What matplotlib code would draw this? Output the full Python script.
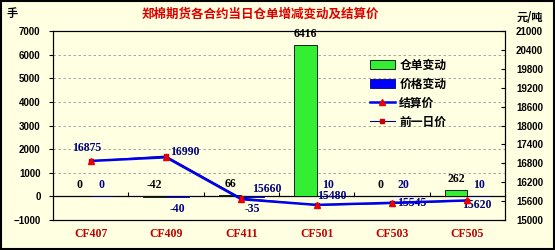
import matplotlib
matplotlib.use('Agg')
import matplotlib.pyplot as plt
from matplotlib.patches import Rectangle
import numpy as np

contracts = ['CF407', 'CF409', 'CF411', 'CF501', 'CF503', 'CF505']
receipt_change = [0, -42, 66, 6416, 0, 262]          # 仓单变动 (手)
price_change = [0, -40, -35, 10, 20, 10]              # 价格变动
settle_price = [16875, 16990, 15660, 15480, 15545, 15620]   # 结算价
prev_price = [16875, 17030, 15695, 15470, 15525, 15610]     # 前一日价

# label offsets (pixels) for the settlement price labels
settle_offsets = [(-4, 13), (19, 5), (25, 10), (15, 9), (20, 0), (9, -5)]

bg = '#FFFFE1'
cjk = ['Noto Sans CJK SC', 'DejaVu Sans']
num = ['Liberation Serif', 'DejaVu Serif']

fig = plt.figure(figsize=(5.55, 2.5), dpi=100, facecolor=bg)
ax = fig.add_axes([53/555, 1-220/250, 452/555, 189/250])
ax.set_facecolor(bg)
ax2 = ax.twinx()

ind = np.arange(len(contracts))
w = 0.3
b_green = ax.bar(ind - w/2, receipt_change, w, color='#33EE33', edgecolor='black', linewidth=0.6, zorder=3)
b_blue = ax.bar(ind + w/2, price_change, w, color='#0000FF', edgecolor='#000080', linewidth=0.6, zorder=3)

ax.set_xlim(-0.5, 5.5)
ax.set_ylim(-1000, 7000)
ax.set_yticks(np.arange(-1000, 7001, 1000))
for yv in range(1000, 7000, 1000):
    ax.axhline(yv, color='#999999', linestyle=(0, (3, 3)), linewidth=0.6, zorder=1)

ax.set_xticks(ind)
ax.set_xticklabels(contracts, color='#C00000', fontweight='bold', family=num, fontsize=8.5)
ax.tick_params(axis='x', length=0, pad=6)
ax.tick_params(axis='y', length=3, labelsize=7, pad=6)
for t in ax.get_yticklabels():
    t.set_fontweight('bold')
    t.set_family(['Liberation Sans', 'DejaVu Sans'])

# zero line with category separators
sec = ax.secondary_xaxis(1000/8000)
sec.set_xticks(np.arange(0.5, 5.5, 1.0))
sec.tick_params(direction='in', length=3, labelbottom=False, width=0.8)
sec.spines['bottom'].set_linewidth(0.9)

for s in ax.spines.values():
    s.set_linewidth(0.8)

# bar labels
for i, v in enumerate(receipt_change):
    ax.annotate(str(v), (i - w/2, max(v, 0)), xytext=(0, 11), textcoords='offset pixels',
                ha='center', va='center', fontsize=8.5, fontweight='bold', family=num, color='black', zorder=5)
for i, v in enumerate(price_change):
    off = 11 if v >= 0 else -12
    ax.annotate(str(v), (i + w/2, v), xytext=(0, off), textcoords='offset pixels',
                ha='center', va='center', fontsize=8.5, fontweight='bold', family=num, color='#000080', zorder=5)

# price lines on right axis
ln_prev, = ax2.plot(ind, prev_price, color='#000080', linewidth=0.8, marker='s', markersize=2.5,
                    markerfacecolor='#CC0000', markeredgecolor='#CC0000', zorder=3)
ln_set, = ax2.plot(ind, settle_price, color='#0000EE', linewidth=1.8, marker='^', markersize=5,
                   markerfacecolor='#EE0000', markeredgecolor='#EE0000', zorder=4)
for i, v in enumerate(settle_price):
    ax2.annotate(str(v), (i, v), xytext=settle_offsets[i], textcoords='offset pixels',
                 ha='center', va='center', fontsize=8.5, fontweight='bold', family=num, color='#000080')

ax2.set_ylim(15000, 21000)
ax2.set_yticks(np.arange(15000, 21001, 600))
ax2.tick_params(axis='y', direction='in', length=3, labelsize=7, pad=8)
for t in ax2.get_yticklabels():
    t.set_fontweight('bold')
    t.set_family(['Liberation Sans', 'DejaVu Sans'])
for s in ax2.spines.values():
    s.set_linewidth(0.8)

fig.text(0.47, 1-14/250, '郑棉期货各合约当日仓单增减变动及结算价', ha='center', va='center',
         family=cjk, fontsize=9, fontweight='bold', color='#DD0000')
fig.text(12/555, 1-14/250, '手', ha='center', va='center', family=cjk, fontsize=8, fontweight='bold')
fig.text(530/555, 1-17/250, '元/吨', ha='center', va='center', family=cjk, fontsize=8, fontweight='bold')

leg = fig.legend([b_green, b_blue, ln_set, ln_prev], ['仓单变动', '价格变动', '结算价', '前一日价'],
                 loc='upper left', bbox_to_anchor=(365/555, 1-54/250), frameon=False,
                 prop={'family': cjk, 'size': 8.5, 'weight': 'bold'},
                 handlelength=2.1, handletextpad=0.4, labelspacing=0.5, borderaxespad=0)

fig.patches.append(Rectangle((0.002, 0.004), 0.996, 0.992, transform=fig.transFigure,
                             fill=False, edgecolor='black', linewidth=1.5))

fig.savefig('out.png', dpi=100, facecolor=bg)
